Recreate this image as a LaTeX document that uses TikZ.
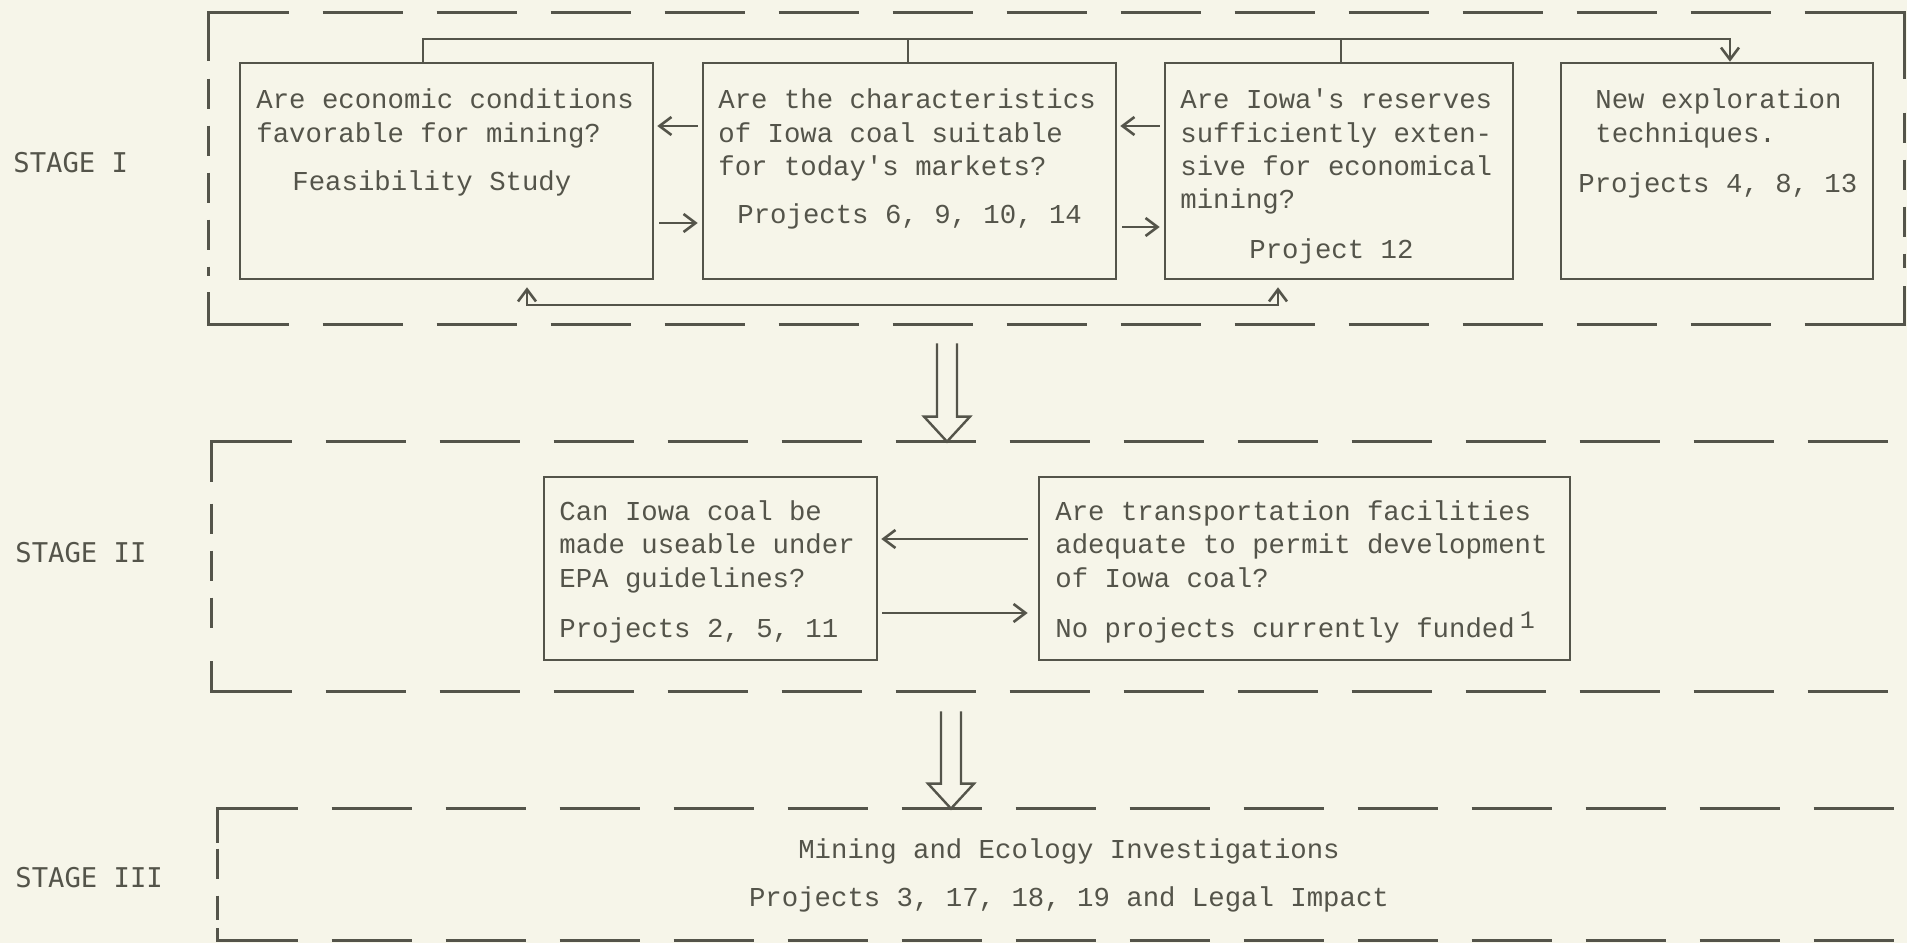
\documentclass[tikz,border=0pt]{standalone}
\usepackage{fontspec}
\usetikzlibrary{arrows.meta,fit,calc}
\newfontfamily\bodyfont[Ligatures=TeXOff]{Liberation Mono}
\newfontfamily\stagefont[Ligatures=TeXOff]{DejaVu Sans Mono}
\definecolor{inkc}{RGB}{84,84,74}
\definecolor{paper}{RGB}{246,245,233}
\begin{document}
\begin{tikzpicture}[x=0.5pt,y=-0.5pt,
  ln/.style={draw=inkc, line width=1.3pt},
  box/.style={draw=inkc, line width=1.3pt, inner sep=0pt, rectangle},
  frame/.style={draw=none, inner sep=0pt, rectangle},
  hd/.style={draw=inkc, line width=1.3pt, dash pattern=on 40pt off 17pt},
  vd/.style={draw=inkc, line width=1.3pt, dash pattern=on 15pt off 8.5pt},
  txt/.style={anchor=base west, inner sep=0pt, text=inkc, font=\bodyfont\fontsize{13.67pt}{16pt}\selectfont},
  ctxt/.style={txt, anchor=base},
  lab/.style={anchor=base west, inner sep=0pt, text=inkc, font=\stagefont\fontsize{13.6pt}{16pt}\selectfont},
  arr/.style={ln, -{Straight Barb[length=6pt,width=9pt]}},
  darr/.style={ln, {Straight Barb[length=6pt,width=9pt]}-{Straight Barb[length=6pt,width=9pt]}},
  hol/.style={draw=inkc, line width=1.2pt, line join=miter}
]
\path[use as bounding box, fill=paper] (0,0) rectangle (1907,943);

% stage frames
\node[frame, fit={(209,13) (1904,324)}] (S1) {};
\node[frame, fit={(212,442) (1907,691)}] (S2) {};
\node[frame, fit={(218,809) (1907,940)}] (S3) {};

% stage I frame
\draw[hd] (S1.north west) -- (S1.north east);
\draw[hd] (S1.south west) -- (S1.south east);
\draw[vd] ($(S1.north west)+(0,66)$) -- ($(S1.south west)+(0,-48)$);
\draw[vd] ($(S1.north east)+(0,100)$) -- ($(S1.south east)+(0,-56)$);
\draw[ln] ($(S1.north west)+(0,48)$) -- (S1.north west) -- ++(78,0);
\draw[ln] ($(S1.south west)+(0,-32)$) -- (S1.south west) -- ++(78,0);
\draw[ln] ($(S1.north east)+(-84,0)$) -- (S1.north east) -- ++(0,66);
\draw[ln] ($(S1.south east)+(-80,0)$) -- (S1.south east) -- ++(0,-38);

% stage II frame
\draw[hd] (S2.north west) -- (S2.north east);
\draw[hd] (S2.south west) -- (S2.south east);
\draw[vd] ($(S2.north west)+(0,62)$) -- ($(S2.south west)+(0,-48)$);
\draw[ln] ($(S2.north west)+(0,40)$) -- (S2.north west) -- ++(78,0);
\draw[ln] ($(S2.south west)+(0,-30)$) -- (S2.south west) -- ++(78,0);

% stage III frame
\draw[hd] (S3.north west) -- (S3.north east);
\draw[hd] (S3.south west) -- (S3.south east);
\draw[vd] ($(S3.north west)+(0,40)$) -- ($(S3.south west)+(0,-20)$);
\draw[ln] ($(S3.north west)+(0,34)$) -- (S3.north west) -- ++(78,0);
\draw[ln] ($(S3.south west)+(0,-12)$) -- (S3.south west) -- ++(78,0);

% stage labels
\node[lab] (L1) at (13,172) {STAGE I};
\node[lab] (L2) at (15,562) {STAGE II};
\node[lab] (L3) at (15,887) {STAGE III};

% boxes
\node[box, fit={(240,63) (653,279)}] (A) {};
\node[box, fit={(703,63) (1116,279)}] (B) {};
\node[box, fit={(1165,63) (1513,279)}] (C) {};
\node[box, fit={(1561,63) (1873,279)}] (D) {};
\node[box, fit={(544,477) (877,660)}] (E) {};
\node[box, fit={(1039,477) (1570,660)}] (F) {};

% texts
\node[txt] (a1) at (256,108) {Are economic conditions};
\node[txt] (a2) at (256,142) {favorable for mining?};
\node[txt] (a3) at (292,190) {Feasibility Study};
\node[txt] (b1) at (718,108) {Are the characteristics};
\node[txt] (b2) at (718,142) {of Iowa coal suitable};
\node[txt] (b3) at (718,175) {for today's markets?};
\node[txt] (b4) at (737,223) {Projects 6, 9, 10, 14};
\node[txt] (c1) at (1180,108) {Are Iowa's reserves};
\node[txt] (c2) at (1180,142) {sufficiently exten-};
\node[txt] (c3) at (1180,175) {sive for economical};
\node[txt] (c4) at (1180,208) {mining?};
\node[txt] (c5) at (1249,258) {Project 12};
\node[txt] (d1) at (1595,108) {New exploration};
\node[txt] (d2) at (1595,142) {techniques.};
\node[txt] (d3) at (1578,192) {Projects 4, 8, 13};
\node[txt] (e1) at (559,520) {Can Iowa coal be};
\node[txt] (e2) at (559,553) {made useable under};
\node[txt] (e3) at (559,587) {EPA guidelines?};
\node[txt] (e4) at (559,637) {Projects 2, 5, 11};
\node[txt] (f1) at (1055,520) {Are transportation facilities};
\node[txt] (f2) at (1055,553) {adequate to permit development};
\node[txt] (f3) at (1055,587) {of Iowa coal?};
\node[txt] (f4) at (1055,637) {No projects currently funded\hspace{2.5pt}\raisebox{4.5pt}{\fontsize{12.5pt}{12.5pt}\selectfont 1}};
\node[ctxt] (g1) at (1069,858) {Mining and Ecology Investigations};
\node[ctxt] (g2) at (1069,906) {Projects 3, 17, 18, 19 and Legal Impact};

% top bus
\coordinate (ta) at (423,39);
\coordinate (tb) at (908,39);
\coordinate (tc) at (1341,39);
\coordinate (td) at (1730,39);
\draw[arr] (A.north -| ta) -- (ta) -- (td) -- (D.north -| td);
\draw[ln] (B.north -| tb) -- (tb);
\draw[ln] (C.north -| tc) -- (tc);

% bottom bus
\coordinate (ba) at (527,305);
\coordinate (bc) at (1278,305);
\draw[darr, shorten <=3.5pt, shorten >=3.5pt] (A.south -| ba) -- (ba) -- (bc) -- (C.south -| bc);

% side arrows
\coordinate (y1) at (0,126);
\coordinate (y2) at (0,223);
\coordinate (y3) at (0,227);
\coordinate (y4) at (0,539);
\coordinate (y5) at (0,613);
\draw[arr, shorten <=2pt, shorten >=1.5pt] (B.west |- y1) -- (A.east |- y1);
\draw[arr, shorten <=2.5pt, shorten >=2pt] (A.east |- y2) -- (B.west |- y2);
\draw[arr, shorten <=2pt, shorten >=1.5pt] (C.west |- y1) -- (B.east |- y1);
\draw[arr, shorten <=2.5pt, shorten >=2pt] (B.east |- y3) -- (C.west |- y3);
\draw[arr, shorten <=5pt, shorten >=1.5pt] (F.west |- y4) -- (E.east |- y4);
\draw[arr, shorten <=2pt, shorten >=5pt] (E.east |- y5) -- (F.west |- y5);

% hollow stage arrows
\coordinate (h1) at (947,0);
\coordinate (h2) at (951,0);
\coordinate (h1s) at ($(S1.south -| h1)+(0,19)$);
\coordinate (h1e) at (S2.north -| h1);
\coordinate (h2s) at ($(S2.south -| h2)+(0,20)$);
\coordinate (h2e) at (S3.north -| h2);
\draw[hol] ($(h1s)+(-10,0)$) -- ($(h1e)+(-10,-25)$) -- ($(h1e)+(-23,-25)$) -- (h1e) -- ($(h1e)+(23,-25)$) -- ($(h1e)+(10,-25)$) -- ($(h1s)+(10,0)$);
\draw[hol] ($(h2s)+(-10,0)$) -- ($(h2e)+(-10,-25)$) -- ($(h2e)+(-23,-25)$) -- (h2e) -- ($(h2e)+(23,-25)$) -- ($(h2e)+(10,-25)$) -- ($(h2s)+(10,0)$);
\end{tikzpicture}
\end{document}
